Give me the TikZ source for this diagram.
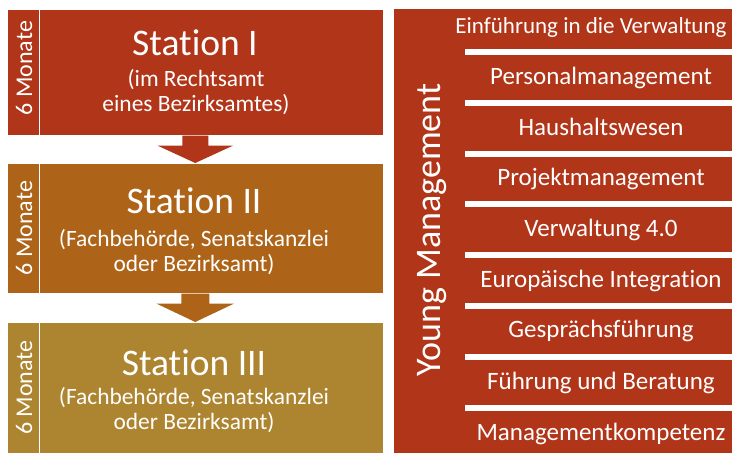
\documentclass[tikz,border=0pt]{standalone}
\usepackage{fontspec}
\setmainfont[Ligatures={NoCommon}]{Carlito}
\usetikzlibrary{calc}
\usetikzlibrary{positioning}

\definecolor{stationred}{RGB}{176,53,25}
\definecolor{stationbrown}{RGB}{173,100,24}
\definecolor{stationgold}{RGB}{173,132,48}

\begin{document}
\begin{tikzpicture}[
    x=1pt, y=-1pt,
    stationbox/.style={
      draw=white, line width=0.5pt, anchor=north west,
      minimum width=376pt, inner sep=0pt
    },
    stationtitle/.style={
      text=white, anchor=base, inner sep=0pt, font=\fontsize{37.5}{44}\selectfont
    },
    stationlabel/.style={
      text=white, align=center, inner sep=0pt, font=\fontsize{23.4}{24.5}\selectfont
    },
    months/.style={
      text=white, rotate=90, inner sep=0pt, font=\fontsize{24}{28}\selectfont
    },
    module/.style={
      text=white, anchor=base, inner sep=0pt, font=\fontsize{25}{30}\selectfont
    }
  ]
    \useasboundingbox (0,0) rectangle (732,453);

    \coordinate (SA) at (  7,  9);
    \coordinate (SB) at (  7,163);
    \coordinate (SC) at (  7,322);
    \coordinate (YA) at (394,  9);

    \node[stationbox, fill=stationred,   minimum height=126pt] (SAB) at (SA) {};
    \node[stationbox, fill=stationbrown, minimum height=130pt] (SBB) at (SB) {};
    \node[stationbox, fill=stationgold,  minimum height=131pt] (SCB) at (SC) {};

    \draw[white, line width=0.8pt] ($(SAB.north west)+(32,0)$) -- ($(SAB.south west)+(32,0)$);
    \draw[white, line width=0.8pt] ($(SBB.north west)+(32,0)$) -- ($(SBB.south west)+(32,0)$);
    \draw[white, line width=0.8pt] ($(SCB.north west)+(32,0)$) -- ($(SCB.south west)+(32,0)$);

    \node[months] (SAM) at ($(SAB.west)+(17,-4)$) {6 Monate};
    \node[months] (SBM) at ($(SBB.west)+(17,0)$) {6 Monate};
    \node[months] (SCM) at ($(SCB.west)+(17,0)$) {6 Monate};

    \node[stationtitle] (SAT) at (195, 55) {Station I};
    \node[stationlabel] (SAL) at (196, 92) {(im Rechtsamt\\eines Bezirksamtes)};

    \node[stationtitle] (SBT) at (194,213) {Station II};
    \node[stationlabel] (SBL) at (194,252) {(Fachbehörde, Senatskanzlei\\oder Bezirksamt)};

    \node[stationtitle] (SCT) at (194,375) {Station III};
    \node[stationlabel] (SCL) at (194,410) {(Fachbehörde, Senatskanzlei\\oder Bezirksamt)};

    \fill[stationred] ($(SAB.south)+(-13,0)$) -- ($(SAB.south)+(-13,10)$) -- ($(SAB.south)+(-38,10)$)
      -- (SBB.north) -- ($(SAB.south)+(38,10)$) -- ($(SAB.south)+(13,10)$) -- ($(SAB.south)+(13,0)$) -- cycle;
    \fill[stationbrown] ($(SBB.south)+(-14,0)$) -- ($(SBB.south)+(-14,10)$) -- ($(SBB.south)+(-39,10)$)
      -- (SCB.north) -- ($(SBB.south)+(39,10)$) -- ($(SBB.south)+(14,10)$) -- ($(SBB.south)+(14,0)$) -- cycle;

    \node[fill=stationred, anchor=north west, minimum width=338pt, minimum height=444pt, inner sep=0pt]
      (YMB) at (YA) {};
    \node[text=white, rotate=90, inner sep=0pt, font=\fontsize{36}{42}\selectfont]
      (YMT) at (432,230) {Young Management};

    \foreach \i in {0,...,7}
      \fill[white] (465,{49+50.8*\i}) rectangle (732,{55+50.8*\i});

    \node[module, font=\fontsize{23}{28}\selectfont] (YMA) at (591, 33) {Einführung in die Verwaltung};
    \node[module] (YMB) at (601, 84) {Personalmanagement};
    \node[module] (YMC) at (601,135) {Haushaltswesen};
    \node[module] (YMD) at (601,185) {Projektmanagement};
    \node[module] (YME) at (601,236) {Verwaltung 4.0};
    \node[module] (YMF) at (601,287) {Europäische Integration};
    \node[module] (YMG) at (601,337) {Gesprächsführung};
    \node[module] (YMH) at (601,389) {Führung und Beratung};
    \node[module] (YMI) at (601,440) {Managementkompetenz};
  \end{tikzpicture}
\end{document}
